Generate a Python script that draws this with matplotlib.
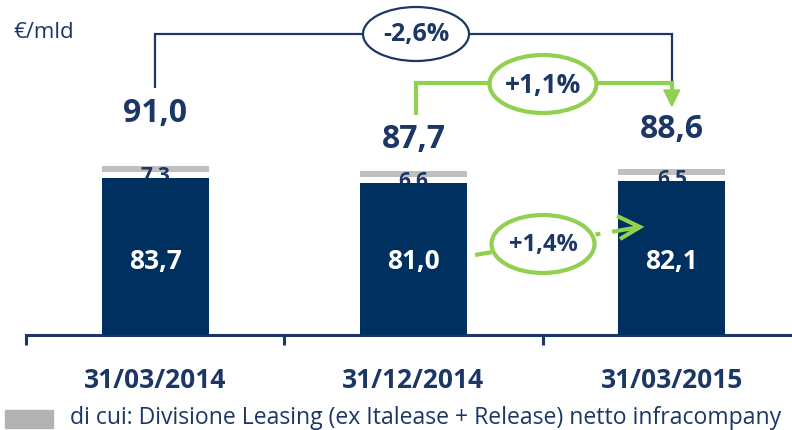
import matplotlib
matplotlib.use("Agg")
import matplotlib.pyplot as plt
from matplotlib.transforms import Affine2D, blended_transform_factory, offset_copy
from matplotlib.patches import Ellipse, Rectangle, Polygon
from matplotlib.lines import Line2D

# ---------------- data ----------------
categories = ["31/03/2014", "31/12/2014", "31/03/2015"]
main_values = [83.7, 81.0, 82.1]
leasing_values = [7.3, 6.6, 6.5]
total_values = [91.0, 87.7, 88.6]
change_labels = ["-2,6%", "+1,1%", "+1,4%"]
unit_label = "€/mld"
legend_label = "di cui: Divisione Leasing (ex Italease + Release) netto infracompany"

# ---------------- style ----------------
NAVY = "#00305f"
TXT = "#1c3766"
GREEN = "#92d050"
GREY = "#bfbfbf"
FONT = ["Open Sans", "DejaVu Sans"]
plt.rcParams["font.family"] = FONT

W, H = 792, 430
fig = plt.figure(figsize=(W / 100, H / 100), dpi=100)
px = Affine2D().scale(1 / W, -1 / H).translate(0, 1) + fig.transFigure

base_y = 335
left_px, right_px = 26, 801
ax = fig.add_axes([left_px / W, (H - base_y) / H, (right_px - left_px) / W, base_y / H])
ymax = 178.6
ax.set_xlim(-0.5, 2.5)
ax.set_ylim(0, ymax)
upp = ymax / base_y  # data units per pixel

x = list(range(len(categories)))
bw = 0.414
ax.bar(x, main_values, width=bw, color=NAVY, zorder=3)
ax.bar(x, [6 * upp] * 3, bottom=[v + 6 * upp for v in main_values], width=bw,
       color=GREY, zorder=2)

for s in ["top", "left", "right"]:
    ax.spines[s].set_visible(False)
ax.spines["bottom"].set_color(TXT)
ax.spines["bottom"].set_linewidth(2.2)
ax.set_yticks([])
ax.set_xticks([-0.5, 0.5, 1.5, 2.5])
ax.set_xticklabels([])
ax.tick_params(axis="x", direction="out", length=7.5, width=2.2, color=TXT)

bx = blended_transform_factory(ax.transData, px)

# inner values
for xi, v in zip(x, main_values):
    ax.text(xi, 261, f"{v:.1f}".replace(".", ","), transform=bx, ha="center", va="center",
            color="white", fontsize=19, fontweight="bold", zorder=5)

# leasing values (partly hidden behind navy bar)
for xi, v, l in zip(x, main_values, leasing_values):
    ax.text(xi, v - 4 * upp, f"{l:.1f}", ha="center", va="baseline",
            color=TXT, fontsize=15, fontweight="bold", zorder=2.5)

# totals
total_y = [113, 139, 130]
for xi, t, ty in zip(x, total_values, total_y):
    ax.text(xi, ty, f"{t:.1f}".replace(".", ","), transform=bx, ha="center", va="center",
            color=TXT, fontsize=23, fontweight="bold")

# category labels
for xi, c in zip(x, categories):
    ax.text(xi, 380, c, transform=bx, ha="center", va="center",
            color=TXT, fontsize=19, fontweight="bold")

# unit
fig.text(13, 33, unit_label, transform=px, ha="left", va="center", color=TXT, fontsize=16)

# legend
fig.patches.append(Rectangle((5, 410), 48, 18, transform=px, color="#b3b3b3", figure=fig))
fig.text(70, 424, legend_label, transform=px, ha="left", va="baseline", color=TXT, fontsize=16.6)

# ------------- annotations -------------
cxp = [px.inverted().transform(ax.transData.transform((xi, 0)))[0] for xi in x]

def line(xs, ys, color, lw, z=6):
    fig.add_artist(Line2D(xs, ys, transform=px, color=color, lw=lw, zorder=z,
                          solid_capstyle="butt", solid_joinstyle="miter"))

# navy bracket
line([cxp[0], cxp[0], cxp[2], cxp[2]], [88, 34, 34, 84], TXT, 1.6)
e = Ellipse((416, 34), 106, 54, transform=px, facecolor="white", edgecolor=TXT, lw=1.6, zorder=7)
fig.add_artist(e)
fig.text(416, 35, change_labels[0], transform=px, ha="center", va="center", color=TXT,
         fontsize=18, fontweight="bold", zorder=8)

# green bracket
line([cxp[1] + 3, cxp[1] + 3, cxp[2], cxp[2]], [115, 83, 83, 92], GREEN, 3)
fig.add_artist(Polygon([(cxp[2] - 8, 90), (cxp[2] + 8, 90), (cxp[2], 106)], closed=True,
                       transform=px, color=GREEN, zorder=6))
e = Ellipse((543, 84), 107, 58, transform=px, facecolor="white", edgecolor=GREEN, lw=3, zorder=7)
fig.add_artist(e)
fig.text(543, 85, change_labels[1], transform=px, ha="center", va="center", color=TXT,
         fontsize=19, fontweight="bold", zorder=8)

# lower green dashed arrow
x0, y0, x1, y1 = 475, 255, 640, 227
def pt(t):
    return x0 + (x1 - x0) * t, y0 + (y1 - y0) * t
for a, b in [(0.0, 0.1), (0.73, 0.76), (0.83, 1.0)]:
    p, q = pt(a), pt(b)
    line([p[0], q[0]], [p[1], q[1]], GREEN, 3)
line([617, 640, 620], [216, 227, 239], GREEN, 3)
e = Ellipse((543, 244), 103, 58, transform=px, facecolor="white", edgecolor=GREEN, lw=3, zorder=7)
fig.add_artist(e)
fig.text(543, 245, change_labels[2], transform=px, ha="center", va="center", color=TXT,
         fontsize=17, fontweight="bold", zorder=8)

fig.savefig("out.png", dpi=100)
